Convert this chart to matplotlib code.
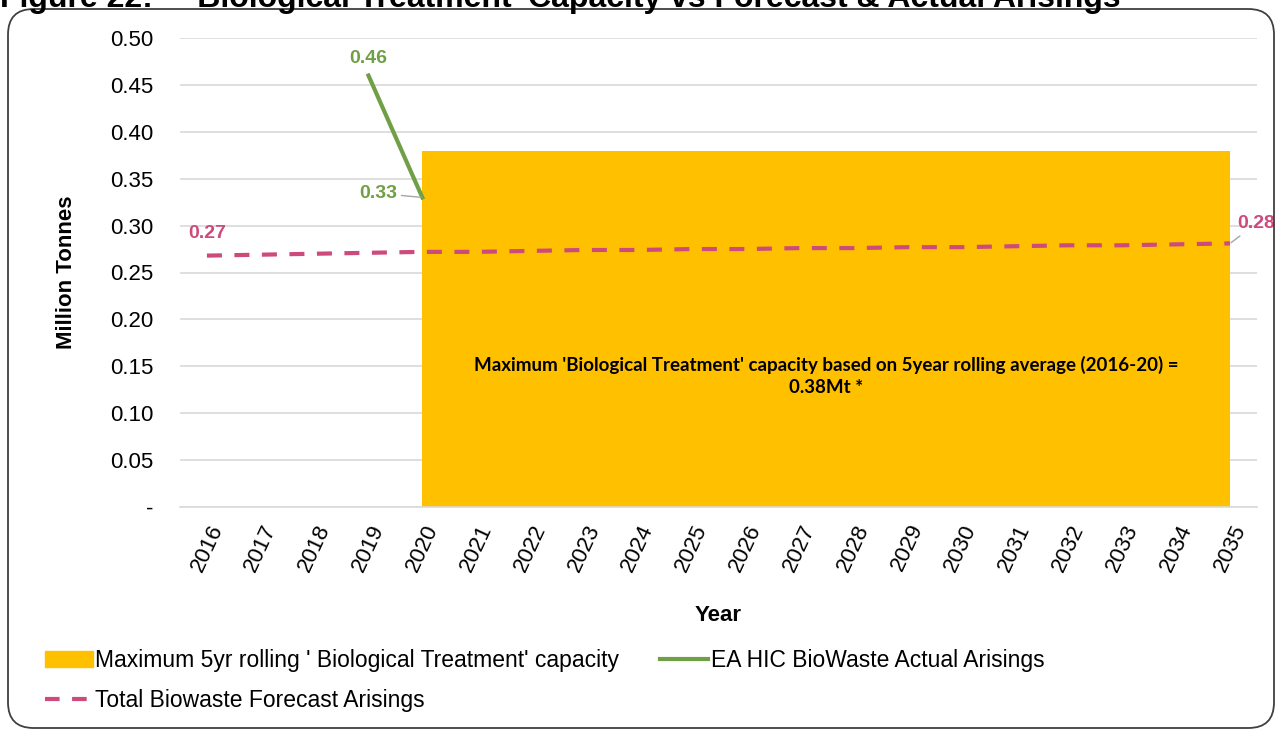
import matplotlib.pyplot as plt
import numpy as np
from matplotlib.patches import FancyBboxPatch, Patch
from matplotlib.lines import Line2D

plt.rcParams['font.family'] = ['Liberation Sans', 'DejaVu Sans']

# data
years = [str(y) for y in range(2016, 2036)]
capacity = [None, None, None, None] + [0.38] * 16
actual = [None, None, None, 0.46, 0.33] + [None] * 15
forecast = [0.268, 0.269, 0.270, 0.271, 0.272, 0.272, 0.273, 0.274, 0.274, 0.275,
            0.275, 0.276, 0.276, 0.277, 0.277, 0.278, 0.279, 0.279, 0.280, 0.281]
yticks = [0, 0.05, 0.10, 0.15, 0.20, 0.25, 0.30, 0.35, 0.40, 0.45, 0.50]
ytick_labels = ['-'] + ['%.2f' % v for v in yticks[1:]]

yellow = '#FFC000'
green = '#70A046'
pink = '#CC4A7C'

fig = plt.figure(figsize=(12.79, 7.31), dpi=100)
ax = fig.add_axes([180 / 1279, 1 - 507 / 731, (1257 - 180) / 1279, (507 - 38) / 731])

x = np.arange(len(years))
cap = np.array([np.nan if v is None else v for v in capacity], dtype=float)
act = np.array([np.nan if v is None else v for v in actual], dtype=float)

m = ~np.isnan(cap)
ax.fill_between(x[m], 0, cap[m], color=yellow, linewidth=0, zorder=2)
ax.plot(x, act, color=green, lw=3, zorder=3)
ax.plot(x, forecast, color=pink, lw=3, ls=(0, (3.6, 3)), zorder=4)

ax.set_xlim(-0.5, len(years) - 0.5)
ax.set_ylim(0, 0.5)
ax.set_yticks(yticks)
ax.set_yticklabels(ytick_labels, fontsize=16)
ax.set_xticks(x)
ax.set_xticklabels(years, rotation=65, fontsize=16, ha='center', va='top')
ax.tick_params(length=0, pad=10)
ax.tick_params(axis='y', pad=19)
ax.grid(axis='y', color='#d9d9d9', lw=1.2, zorder=0)
ax.set_axisbelow(True)
for s in ['top', 'right', 'left']:
    ax.spines[s].set_visible(False)
ax.spines['bottom'].set_color('#d9d9d9')
ax.spines['bottom'].set_linewidth(1.2)

ax.set_ylabel('Million Tonnes', fontsize=16, fontweight='bold', labelpad=24)
ax.set_xlabel('Year', fontsize=16, fontweight='bold', labelpad=22)

# data labels
ax.annotate('0.46', (3, act[3]), xytext=(0, 6), textcoords='offset points',
            ha='center', va='bottom', color=green, fontsize=14, fontweight='bold')
ax.annotate('0.33', (4, act[4]), xytext=(-18, 3), textcoords='offset points',
            ha='right', va='center', color=green, fontsize=14, fontweight='bold',
            arrowprops=dict(arrowstyle='-', color='#a6a6a6', lw=1, shrinkA=1, shrinkB=1))
ax.annotate('0.27', (0, forecast[0]), xytext=(0, 10), textcoords='offset points',
            ha='center', va='bottom', color=pink, fontsize=14, fontweight='bold')
ax.annotate('0.28', (19, forecast[19]), xytext=(5, 8), textcoords='offset points',
            ha='left', va='bottom', color=pink, fontsize=14, fontweight='bold',
            arrowprops=dict(arrowstyle='-', color='#a6a6a6', lw=1, shrinkA=1, shrinkB=1))

ax.text(11.5, 0.14,
        "Maximum 'Biological Treatment' capacity based on 5year rolling average (2016-20) =\n0.38Mt *",
        ha='center', va='center', fontsize=13.5, fontweight='bold',
        family=['Lato', 'DejaVu Sans'], linespacing=1.35, zorder=5)

# legend
handles = [Patch(color=yellow),
           Line2D([], [], color=pink, lw=3, ls=(0, (3.5, 3))),
           Line2D([], [], color=green, lw=3)]
labels = ["Maximum 5yr rolling ' Biological Treatment' capacity",
          'Total Biowaste Forecast Arisings',
          'EA HIC BioWaste Actual Arisings']
fig.legend(handles, labels, ncol=2, loc='upper left', bbox_to_anchor=(24 / 1279, 1 - 628 / 731),
           frameon=False, fontsize=16.5, handlelength=2.1, handletextpad=0.1,
           columnspacing=1.8, labelspacing=0.75)

# outer rounded frame and clipped title
fig.patches.append(FancyBboxPatch((8 / 1279, 3 / 731), 1266 / 1279, 719 / 731,
                                  boxstyle='round,pad=0,rounding_size=0.02',
                                  transform=fig.transFigure, fill=False,
                                  ec='#404040', lw=1.3, mutation_aspect=1279 / 731))
fig.text(0.0, 1 - 7 / 731,
         "Figure 22:     Biological Treatment' Capacity vs Forecast & Actual Arisings",
         ha='left', va='baseline', fontsize=23, fontweight='bold')

fig.savefig('out.png', dpi=100)
